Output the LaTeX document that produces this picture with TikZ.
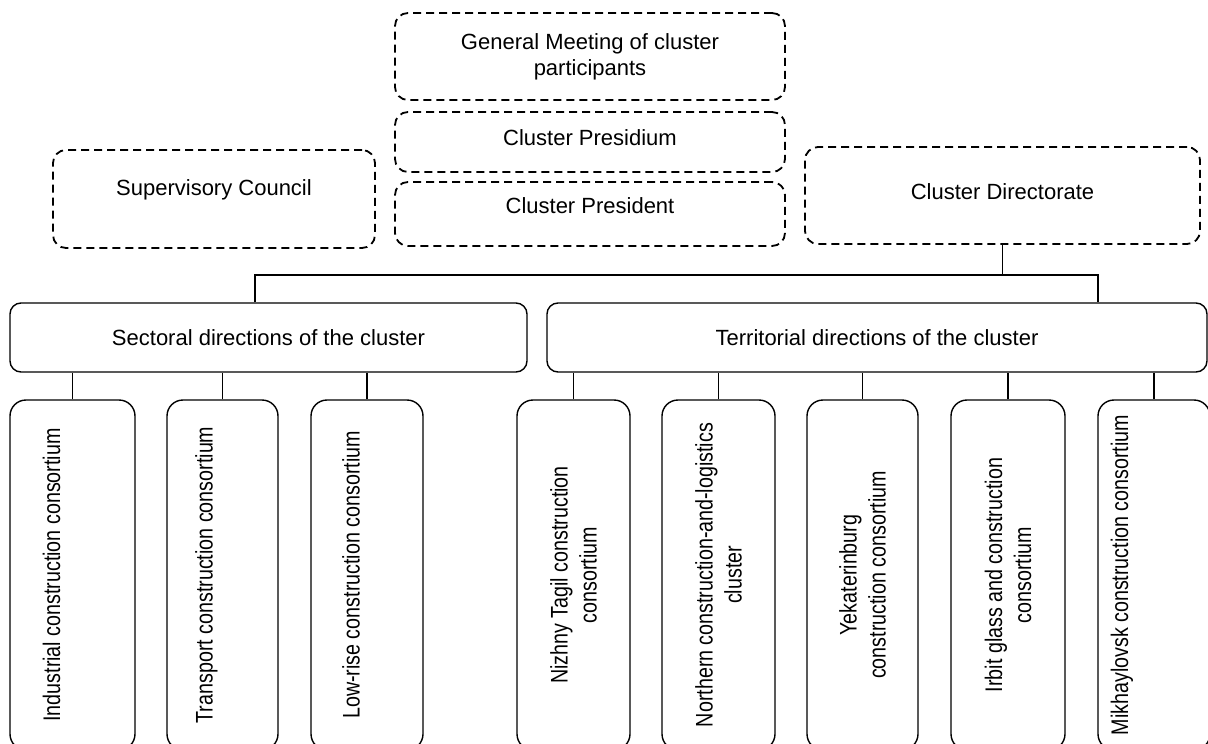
\documentclass[tikz,border=0pt]{standalone}
\usepackage{fontspec}
\setmainfont{Liberation Sans}
\newfontfamily\narrowfont[FakeStretch=0.82]{Liberation Sans}
\usetikzlibrary{positioning}

\tikzset{
  plan/.style={draw, dash pattern=on 8pt off 5pt, line width=1.8pt, rounded corners=13pt,
    align=center, inner sep=0pt, font=\fontsize{22}{26}\selectfont},
  branch/.style={draw, line width=1.4pt, rounded corners=11pt, inner sep=0pt,
    minimum height=69pt, font=\fontsize{22}{26}\selectfont},
  unit/.style={draw, line width=1.4pt, rounded corners=16pt, inner sep=0pt, minimum height=350pt},
  unit text/.style={rotate=90, align=center, inner sep=0pt, font=\narrowfont\fontsize{24}{29}\selectfont},
  link/.style={line width=1.4pt}
}

\begin{document}
\begin{tikzpicture}[x=1pt, y=-1pt]
\useasboundingbox (0,0) rectangle (1208,744);

% governing bodies
\node[plan, minimum width=390pt, minimum height=87pt] (meeting) at (590,56.5)
  {General Meeting of cluster\\participants};
\node[plan, minimum width=390pt, minimum height=60pt, text depth=9pt] (presidium) at (590,142)
  {Cluster Presidium};
\node[plan, minimum width=390pt, minimum height=64pt, text depth=16pt] (president) at (590,214)
  {Cluster President};
\node[plan, minimum width=322pt, minimum height=98pt, text depth=22pt] (council) at (214,199)
  {Supervisory Council};
\node[plan, minimum width=395pt, minimum height=97pt, text depth=8pt] (directorate) at (1002.5,195.5)
  {Cluster Directorate};

% directions
\node[branch, minimum width=517pt] (sectoral) at (268.5,337.5) {Sectoral directions of the cluster};
\node[branch, minimum width=660pt] (territorial) at (877,337.5) {Territorial directions of the cluster};

\coordinate (bus-l) at (255,275);
\coordinate (bus-r) at (1098,275);
\draw[link] (directorate.south) -- (directorate.south |- bus-l);
\draw[link] (sectoral.north -| bus-l) -- (bus-l) -- (bus-r) -- (territorial.north -| bus-r);

% consortia
\foreach \n/\x/\w/\s/\t in {
    industrial/72.5/125/-21/{Industrial construction consortium},
    transport/222.5/111/-16/{Transport construction consortium},
    lowrise/367/112/-16/{Low-rise construction consortium},
    nizhny/573.5/113/0/{Nizhny Tagil construction\\consortium},
    northern/718.5/113/0/{Northern construction-and-logistics\\cluster},
    yekat/862.5/111/0/{Yekaterinburg\\construction consortium},
    irbit/1008/114/0/{Irbit glass and construction\\consortium},
    mikhay/1154/112/-32/{Mikhaylovsk construction consortium}}
{
  \node[unit, minimum width=\w pt] (\n) at (\x,575) {};
  \node[unit text] (\n-text) at ([xshift=\s pt]\n.center) {\t};
}

\foreach \n in {industrial, transport, lowrise}
  \draw[link] (\n.north) -- (\n.north |- sectoral.south);

\foreach \n in {nizhny, northern, yekat, irbit, mikhay}
  \draw[link] (\n.north) -- (\n.north |- territorial.south);
\end{tikzpicture}
\end{document}
